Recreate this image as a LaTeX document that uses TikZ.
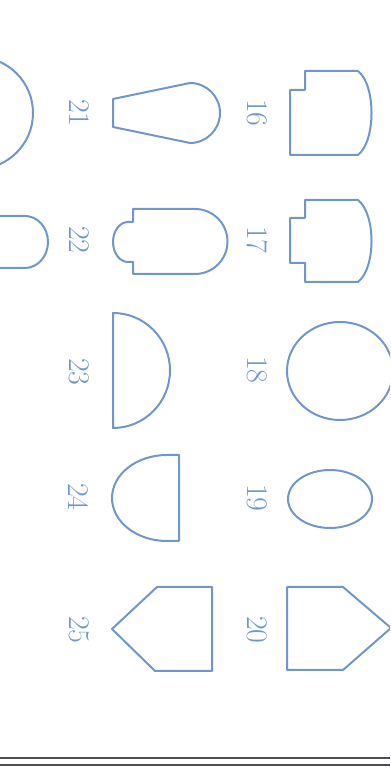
\documentclass[tikz,border=0pt]{standalone}
\usetikzlibrary{calc}
\definecolor{PlInk}{HTML}{6F97CE}
\definecolor{PlRule}{HTML}{4E4E58}
\tikzset{
  outline/.style={draw=PlInk,line width=1pt,line join=round},
  num/.style={text=PlInk,font=\fontsize{15}{15}\selectfont,rotate=-90,inner sep=0pt},
  rule/.style={draw=PlRule,line width=1.1pt},
}

\begin{document}
\begin{tikzpicture}[x=.5pt,y=.5pt]
    \useasboundingbox (0,0) rectangle (390,774);
    \clip (0,0) rectangle (390,774);

    % right column, 16 to 20
    \draw[outline] (290,684) -- (305,684) -- (305,703) -- (358,703)
      .. controls (376,689) and (376,633) .. (358,619) -- (290,619) -- cycle;
    \draw[outline] (290,556) -- (305,556) -- (305,574) -- (358,574)
      .. controls (376,560) and (376,506) .. (358,492) -- (305,492)
      -- (305,511) -- (290,511) -- cycle;
    \draw[outline] (340,403) ellipse[x radius=53,y radius=49];
    \draw[outline] (330,275) ellipse[x radius=42,y radius=29];
    \draw[outline] (287,187) -- (343,187) -- (391,146) -- (343,104) -- (287,104) -- cycle;

    % middle column, 21 to 25
    \draw[outline] (113,675) -- (190,691) arc[start angle=90,end angle=-90,radius=30]
      -- (113,647) -- cycle;
    \draw[outline] (133,565) -- (195,565) arc[start angle=90,end angle=-90,radius=32.5]
      -- (133,500) -- (133,512) -- (128,512)
      arc[start angle=270,end angle=90,x radius=15,y radius=20] -- (133,552) -- cycle;
    \draw[outline] (113,461) arc[start angle=90,end angle=-90,x radius=57,y radius=57.5] -- cycle;
    \draw[outline] (179,319) -- (167,319) arc[start angle=90,end angle=270,x radius=55,y radius=43]
      -- (179,233) -- cycle;
    \draw[outline] (212,187) -- (157,187) -- (112,145) -- (155,103) -- (212,103) -- cycle;

    % cut off at the left edge
    \draw[outline] (-23,661) circle[radius=56];
    \draw[outline] (0,558) -- (25,558) arc[start angle=90,end angle=-90,x radius=23,y radius=26] -- (0,506);

    \foreach \n/\x/\y in {16/257/661,17/257/534,18/257/404,19/257/276,20/257/144,
                          21/79/661,22/79/534,23/79/402,24/79/277,25/79/144}
      \node[num] (n\n) at (\x,\y) {\n};

    \draw[rule] (0,16) -- (390,16);
    \draw[rule] (0,9) -- (390,9);
\end{tikzpicture}
\end{document}
